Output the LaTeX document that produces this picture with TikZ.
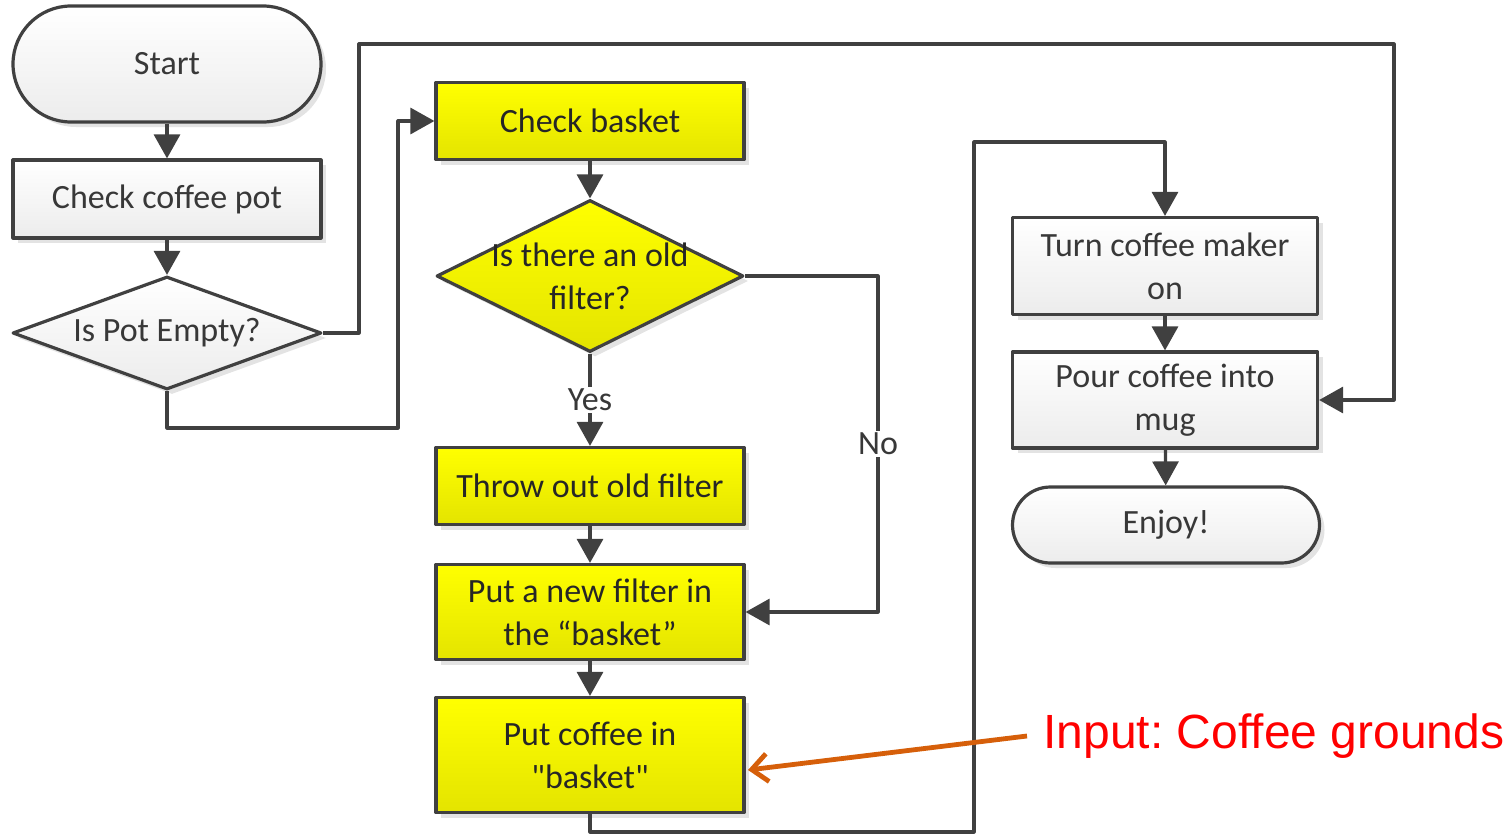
\documentclass[tikz,border=0pt]{standalone}
\usepackage{fontspec}
\setmainfont{Carlito}
\newfontfamily\arialfont{Liberation Sans}
\usetikzlibrary{arrows.meta,shapes.geometric,shadows}
\definecolor{lineclr}{HTML}{404040}
\definecolor{txtclr}{HTML}{383838}
\definecolor{boxgray}{HTML}{ECECEC}
\definecolor{ylw}{HTML}{FFFF00}
\definecolor{ylwdark}{HTML}{E4E400}
\definecolor{inclr}{RGB}{214,95,10}
\definecolor{inred}{RGB}{255,0,0}
\frenchspacing
\begin{document}
\begin{tikzpicture}[x=0.5pt,y=-0.5pt,line join=round,
	font=\fontsize{17}{21.5}\selectfont,
	conn/.style={draw=lineclr,line width=1.6pt,-{Triangle[width=13pt,length=12pt]}},
	shade/.style={drop shadow={shadow xshift=2.5pt,shadow yshift=-2.5pt,fill=black!11,opacity=1}},
	grayfill/.style={top color=white,bottom color=boxgray},
	ylwfill/.style={top color=ylw,bottom color=ylwdark},
	box/.style={rectangle,draw=lineclr,line width=1.6pt,minimum width=154pt,align=center,text=txtclr,inner sep=2pt,shade},
	term/.style={box,rounded corners=#1},
	decision/.style={diamond,draw=lineclr,line width=1.6pt,inner sep=0pt,shade},
	lbl/.style={fill=white,text=txtclr,inner sep=1pt}]
	\useasboundingbox (0,0) rectangle (1509,835);
	% left column
	\node[term=29pt,grayfill,minimum height=58pt] (start) at (167,64) {Start};
	\node[box,grayfill,minimum height=39pt] (check) at (167,199) {Check coffee pot};
	\node[decision,grayfill,minimum width=154.5pt,minimum height=56.5pt,
		label={[text=txtclr]center:Is Pot Empty?}] (empty) at (167,333) {};
	% middle column
	\node[box,ylwfill,minimum height=38.5pt,text=black!85] (basket) at (590,121) {Check basket};
	\node[decision,ylwfill,minimum width=153.5pt,minimum height=76pt,
		label={[align=center,text=black!85]center:Is there an old\\filter?}] (old) at (590,276) {};
	\node[box,ylwfill,minimum height=38.5pt,text=black!85] (throw) at (590,486) {Throw out old filter};
	\node[box,ylwfill,minimum height=47.5pt,text=black!85] (newf) at (590,612) {Put a new filter in\\the “basket”};
	\node[box,ylwfill,minimum height=57.5pt,text=black!85] (coffee) at (590,755) {Put coffee in\\\textquotedbl basket\textquotedbl};
	% right column
	\node[box,grayfill,minimum height=48.5pt,minimum width=152.5pt] (turn) at (1165,266) {Turn coffee maker\\on};
	\node[box,grayfill,minimum height=48pt,minimum width=152.5pt] (pour) at (1165,400) {Pour coffee into\\mug};
	\node[term=19pt,grayfill,minimum height=38pt,minimum width=153.5pt] (enjoy) at (1166,525) {Enjoy!};
	\node[anchor=west,inner xsep=8pt,text=inred,font=\arialfont\fontsize{24}{28}\selectfont] (grounds) at (1027,736) {Input: Coffee grounds};
	% bends
	\coordinate (t1) at (359,44);
	\coordinate (t2) at (1394,44);
	\coordinate (b1) at (398,428);
	\coordinate (n1) at (878,276);
	\coordinate (c1) at (974,832);
	\coordinate (c2) at (974,142);
	\coordinate (cin) at (748,770);
	% connectors
	\draw[conn] (start) -- (check);
	\draw[conn] (check) -- (empty);
	\draw[conn] (empty.east) -| (t1) -- (t2) |- (pour.east);
	\draw[conn] (empty.south) |- (b1) |- (basket.west);
	\draw[conn] (basket) -- (old);
	\draw[conn] (old.south) -- node[lbl]{Yes} (throw);
	\draw[conn] (old.east) -- (n1) |- node[lbl,pos=0.25]{No} (newf.east);
	\draw[conn] (throw) -- (newf);
	\draw[conn] (newf) -- (coffee);
	\draw[conn] (coffee.south) |- (c1) -- (c2) -| (turn.north);
	\draw[conn] (turn) -- (pour);
	\draw[conn] (pour) -- (enjoy);
	\draw[draw=inclr,line width=2.4pt,-{Straight Barb[length=8pt,width=14pt]}] (grounds.west) -- (cin);
\end{tikzpicture}
\end{document}
